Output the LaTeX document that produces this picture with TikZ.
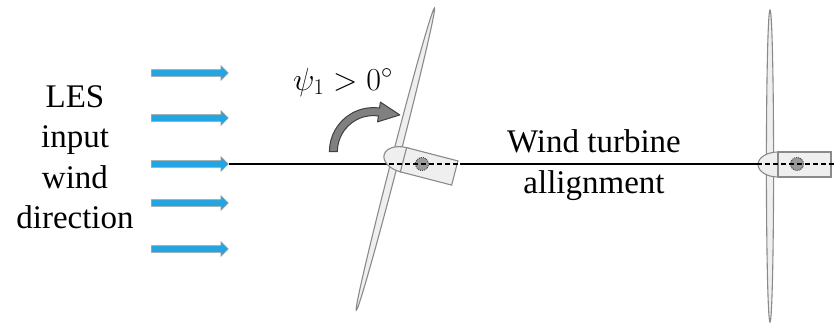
\documentclass[tikz,border=0pt]{standalone}
\usepackage{fix-cm}
\usepackage{fontspec}
\setmainfont{Liberation Serif}
\usetikzlibrary{shapes.arrows,calc}

\definecolor{windblue}{HTML}{22A6E3}
\definecolor{partfill}{HTML}{EFEFEF}
\definecolor{partline}{HTML}{8A8A8A}
\definecolor{gearfill}{HTML}{9A9A9A}

\begin{document}
\begin{tikzpicture}[x=1pt,y=-1pt,
  windarrow/.style={single arrow, fill=windblue, draw=gray!80, line width=0.6pt,
    minimum height=77pt, minimum width=14pt, single arrow head extend=4pt,
    inner sep=3pt, single arrow tip angle=90, anchor=west},
  axisline/.style={black, line width=1.5pt},
  axisdash/.style={black, line width=1.5pt, dash pattern=on 5pt off 3pt},
  turbinepart/.style={fill=partfill, draw=partline, line width=1.1pt},
  gearpart/.style={fill=gearfill, draw=black!70, densely dotted, line width=1pt},
  labeltext/.style={font=\fontsize{33}{40.5}\selectfont, align=center, inner sep=0pt},
  yawarrow/.style={fill=black!50, draw=black!75, line width=1pt, line join=round},
  turbine/.pic={
    % rotor blade, spinner, nacelle and the yaw bearing
    \draw[turbinepart] (-27,2) ellipse[x radius=3.6pt, y radius=156pt];
    \draw[turbinepart] (-19,0.5) ellipse[x radius=20pt, y radius=12.5pt];
    \draw[turbinepart] (-19,-12) rectangle (34,13);
    \draw[gearpart] (0,0) circle[radius=6.5pt];
  }]
\useasboundingbox (0,0) rectangle (835,322);

% inflow arrows
\node[windarrow] (a1) at (151,73) {};
\node[windarrow] (a2) at (151,118) {};
\node[windarrow] (a3) at (151,164) {};
\node[windarrow] (a4) at (151,203) {};
\node[windarrow] (a5) at (151,249) {};

\node[labeltext] (les) at (75,157) {LES\\input\\wind\\direction};

% turbine axis end points
\coordinate (lt-tip) at (389,164);
\coordinate (lt-end) at (460,164);
\coordinate (rt-tip) at (757,164);
\coordinate (rt-end) at (835,164);

\draw[axisline] (a3.east) -- (lt-tip);
\draw[axisline] (lt-end) -- (rt-tip);

% yawed and aligned turbines
\pic[rotate=-14.5] (lt) at (422,164) {turbine};
\pic (rt) at (797,164) {turbine};

\draw[axisdash] (lt-tip) -- (lt-end);
\draw[axisdash] (rt-tip) -- (rt-end);

% yaw direction arrow
\begin{scope}[shift={(373.4,151.6)}]
  \draw[yawarrow] (180:36pt) -- (180:44pt)
    arc[start angle=180, end angle=82, radius=44pt]
    -- (82:50pt) -- (26.4pt,36.7pt) -- (82:30pt) -- (82:36pt)
    arc[start angle=82, end angle=180, radius=36pt] -- cycle;
\end{scope}

\node[font=\fontsize{32}{38}\selectfont, inner sep=0pt] (yaw) at (343,82) {$\psi_1 > 0^\circ$};

\node[labeltext] (align) at (594,165) {Wind turbine\\allignment};
\end{tikzpicture}
\end{document}
